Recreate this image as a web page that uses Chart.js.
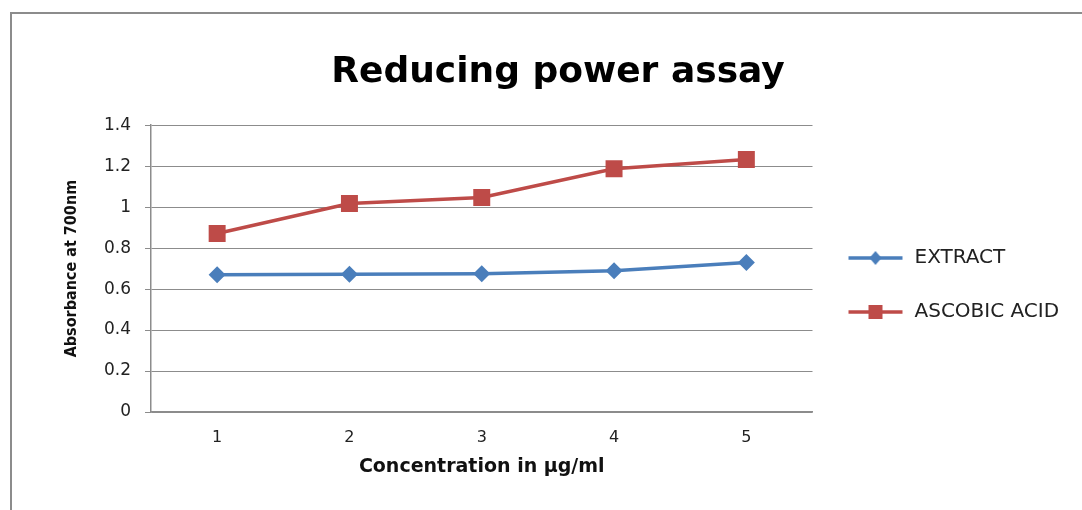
<!DOCTYPE html>
<html lang="en">
<head>
    <meta charset=utf-8>
    <title>Reducing power assay</title>
    <script src="https://cdn.jsdelivr.net/npm/chart.js@4/dist/chart.umd.min.js"></script>
    <style>
        html, body { margin: 0; padding: 0; background: #fff; overflow: hidden; }
        #frame { position: absolute; left: 10px; top: 12px; width: 1100px; height: 520px;
                 border-left: 2px solid #8c8c8c; border-top: 2px solid #8c8c8c; }
        #wrap { position: absolute; left: 0; top: 0; width: 1092px; height: 496px; }
    </style>
</head>
<body>
<div id="frame"><div id="wrap"><canvas id="myChart"></canvas></div></div>
<script>
    var concentrations = ['1', '2', '3', '4', '5'];
    var extract = [0.67, 0.673, 0.675, 0.69, 0.73];
    var ascorbic = [0.871, 1.018, 1.047, 1.187, 1.233];
    var yTicks = [0, 0.2, 0.4, 0.6, 0.8, 1, 1.2, 1.4];

    var blue = '#4a7ebb';
    var red = '#be4b48';

    // little legend swatch: line with marker in the middle
    function swatch(color, shape) {
        var c = document.createElement('canvas');
        c.width = 58;
        c.height = 20;
        var g = c.getContext('2d');
        g.strokeStyle = color;
        g.lineWidth = 3.5;
        g.beginPath();
        g.moveTo(2, 10);
        g.lineTo(56, 10);
        g.stroke();
        g.fillStyle = color;
        g.beginPath();
        if (shape === 'diamond') {
            g.moveTo(29, 3); g.lineTo(35, 10); g.lineTo(29, 17); g.lineTo(23, 10);
        } else {
            g.rect(22, 3, 14, 14);
        }
        g.fill();
        return c;
    }
    var swatches = [swatch(blue, 'diamond'), swatch(red, 'square')];

    var ctx = document.getElementById('myChart').getContext('2d');
    var chart = new Chart(ctx, {
        type: 'line',
        data: {
            labels: concentrations,
            datasets: [
                {
                    label: 'EXTRACT',
                    data: extract,
                    borderColor: blue,
                    backgroundColor: blue,
                    borderWidth: 3.5,
                    pointStyle: 'rectRot',
                    pointRadius: 8.5,
                    pointBorderWidth: 0,
                    tension: 0
                },
                {
                    label: 'ASCOBIC ACID',
                    data: ascorbic,
                    borderColor: red,
                    backgroundColor: red,
                    borderWidth: 3.5,
                    pointStyle: 'rect',
                    pointRadius: 12,
                    pointBorderWidth: 0,
                    tension: 0
                }
            ]
        },
        options: {
            responsive: true,
            maintainAspectRatio: false,
            animation: false,
            layout: {padding: {left: 37, right: 37, top: 0, bottom: 0}},
            plugins: {
                title: {
                    display: true,
                    text: 'Reducing power assay',
                    color: '#000',
                    font: {family: 'DejaVu Sans', size: 36, weight: 'bold', lineHeight: 1.2},
                    padding: {top: 37, bottom: 31}
                },
                legend: {
                    position: 'right',
                    title: {display: true, text: ' ', font: {size: 10}, padding: {top: 15, bottom: 19}},
                    labels: {
                        color: '#222',
                        font: {family: 'DejaVu Sans', size: 20},
                        usePointStyle: true,
                        pointStyleWidth: 58,
                        padding: 34,
                        generateLabels: function (chart) {
                            var items = Chart.defaults.plugins.legend.labels.generateLabels(chart);
                            items.forEach(function (it, i) {
                                it.pointStyle = swatches[i];
                            });
                            return items;
                        }
                    }
                },
                tooltip: {enabled: false}
            },
            scales: {
                x: {
                    offset: true,
                    grid: {display: false, drawTicks: false},
                    border: {display: true, color: '#8c8c8c', width: 1.5},
                    ticks: {color: '#222', font: {family: 'DejaVu Sans', size: 16}, padding: 16},
                    title: {
                        display: true,
                        text: 'Concentration in µg/ml',
                        color: '#111',
                        font: {family: 'DejaVu Sans', size: 19, weight: 'bold', lineHeight: 1.2},
                        padding: {top: 0, bottom: 32}
                    },
                    afterFit: function (scale) { scale.height = 98; }
                },
                y: {
                    min: 0,
                    max: 1.4,
                    afterBuildTicks: function (scale) {
                        scale.ticks = yTicks.map(function (v) { return {value: v}; });
                    },
                    grid: {color: '#8c8c8c', lineWidth: 1, tickLength: 6},
                    border: {display: true, color: '#8c8c8c', width: 1.5},
                    ticks: {
                        color: '#222',
                        font: {family: 'DejaVu Sans', size: 17},
                        padding: 14,
                        callback: function (v) { return String(Math.round(v * 10) / 10); }
                    },
                    title: {
                        display: true,
                        text: 'Absorbance at 700nm',
                        color: '#111',
                        font: {family: 'DejaVu Sans Condensed', size: 16, weight: 'bold', lineHeight: 1.2},
                        padding: {top: 13, bottom: 0}
                    },
                    afterFit: function (scale) { scale.width = 102; }
                }
            }
        }
    });
</script>
</body>
</html>
